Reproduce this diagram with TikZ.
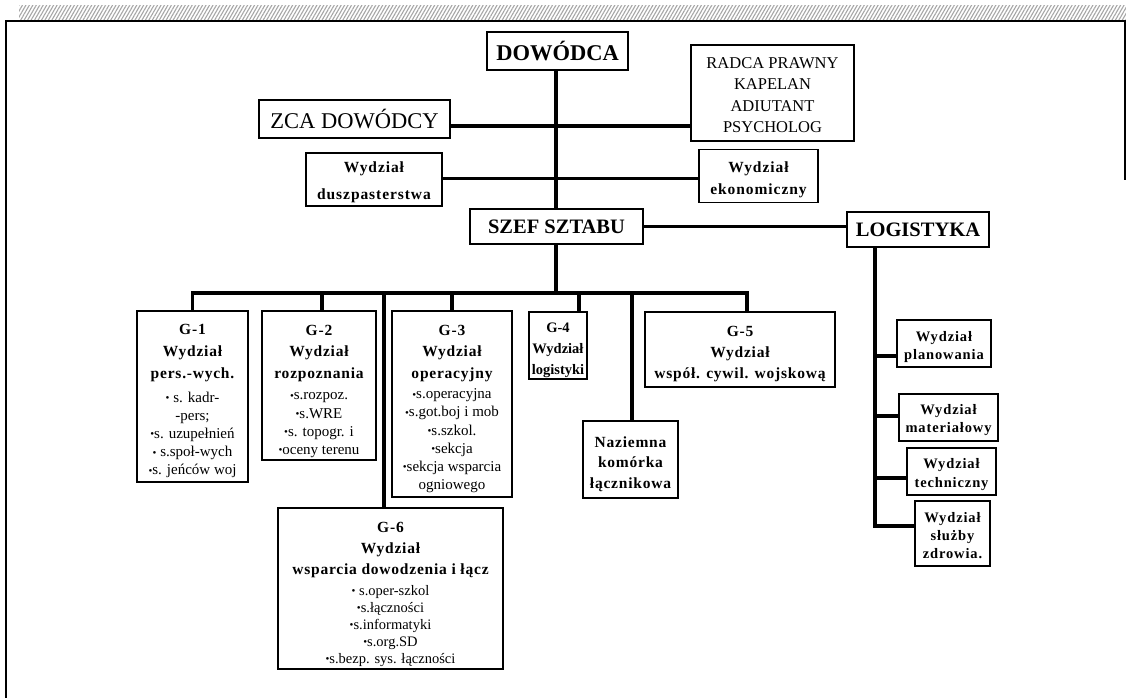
\documentclass[tikz,border=0pt]{standalone}
\usepackage{fontspec}
\setmainfont{Liberation Serif}
\usetikzlibrary{patterns.meta}

% small raised bullet used in the section lists
\newcommand\bul{{\fontsize{11}{11}\selectfont\raisebox{0.6pt}{•}}}
% bold heading line inside the staff-section boxes
\newcommand\hd[1]{{\bfseries\fontsize{15.5}{15.5}\selectfont\addfontfeature{LetterSpace=5}#1}}
% tighter heading for the narrow G-4 box
\newcommand\hdn[1]{{\bfseries\fontsize{14.5}{14.5}\selectfont#1}}
% bold labels of the smaller departments
\newcommand\dept[1]{{\bfseries\addfontfeature{LetterSpace=6}#1}}
% invisible strut making a first line taller, so the text block sits lower
\newcommand\dn[1]{\rule{0pt}{#1}}

\tikzset{
  box/.style={draw, line width=1.6pt, inner sep=0pt, align=center, fill=white},
  conn/.style={line width=3.3pt},
  gsec/.style={box, font=\fontsize{15}{18.2}\selectfont},
}

\begin{document}
\begin{tikzpicture}[x=1pt,y=-1pt]
  \fill[white] (0,0) rectangle (1126,698);
  \useasboundingbox (0,0) rectangle (1126,698);

  % grey hatched strip and the frame
  \fill[pattern={Lines[angle=60,distance=3pt,line width=1.1pt]}, pattern color=gray!70]
    (19,6) rectangle (1126,20);
  \draw[line width=2pt] (6,698) -- (6,21.5) -- (1124.5,21.5) -- (1124.5,180);

  % command level
  \node[box, minimum width=141pt, minimum height=38pt,
        font=\bfseries\fontsize{22.5}{22.5}\selectfont] (dow) at (557.5,51) {DOWÓDCA};
  \node[box, minimum width=191pt, minimum height=38pt,
        font=\fontsize{22.5}{22.5}\selectfont] (zca) at (354.5,119) {ZCA DOWÓDCY};
  \node[box, minimum width=163pt, minimum height=96pt,
        font=\fontsize{16.5}{21.3}\selectfont] (radca) at (772.5,93)
        {\dn{15pt}RADCA PRAWNY\\KAPELAN\\ADIUTANT\\PSYCHOLOG};
  \node[box, minimum width=136pt, minimum height=53pt,
        font=\fontsize{15.5}{27}\selectfont] (dusz) at (374,179.5)
        {\dn{15.5pt}\dept{Wydział}\\\dept{duszpasterstwa}};
  \node[box, minimum width=119pt, minimum height=53pt,
        font=\fontsize{15.5}{22}\selectfont] (ekon) at (758.5,176)
        {\dn{18.5pt}\dept{Wydział}\\\dept{ekonomiczny}};
  \node[box, minimum width=173pt, minimum height=35pt,
        font=\bfseries\fontsize{20.5}{20.5}\selectfont] (szef) at (556.5,226.5) {SZEF SZTABU};
  \node[box, minimum width=142pt, minimum height=35pt,
        font=\bfseries\fontsize{20.5}{20.5}\selectfont] (log) at (918,229.5) {LOGISTYKA};

  % staff sections
  \node[gsec, minimum width=111pt, minimum height=171pt] (g1) at (192.5,396.5)
    {\dn{20pt}\hd{G-1}\\[3.5pt]\hd{Wydział}\\[3.5pt]\hd{pers.-wych.}\\[5.5pt]
     \bul\ s. kadr-\\-pers;\\\bul s. uzupełnień\\\bul\ s.społ-wych\\\bul s. jeńców woj};
  \node[gsec, minimum width=114pt, minimum height=149pt] (g2) at (319,385.5)
    {\dn{22pt}\hd{G-2}\\[3.5pt]\hd{Wydział}\\[3.5pt]\hd{rozpoznania}\\[3pt]
     \bul s.rozpoz.\\\bul s.WRE\\\bul s. topogr. i\\\bul oceny terenu};
  \node[gsec, minimum width=120pt, minimum height=186pt] (g3) at (452,404)
    {\dn{20pt}\hd{G-3}\\[3.5pt]\hd{Wydział}\\[3.5pt]\hd{operacyjny}\\[2pt]
     \bul s.operacyjna\\\bul s.got.boj i mob\\\bul s.szkol.\\\bul sekcja\\
     \bul sekcja wsparcia\\ogniowego};
  \node[gsec, minimum width=58pt, minimum height=67pt] (g4) at (558,345.5)
    {\dn{19pt}\hdn{G-4}\\[3pt]\hdn{Wydział}\\[3pt]\hdn{logistyki}};
  \node[gsec, minimum width=190pt, minimum height=75pt] (g5) at (740,349.5)
    {\dn{19pt}\hd{G-5}\\[3pt]\hd{Wydział}\\[3pt]\hd{współ. cywil. wojskową}};
  \node[gsec, minimum width=95pt, minimum height=77pt] (naz) at (630.5,459.5)
    {\dn{20pt}\hd{Naziemna}\\[2pt]\hd{komórka}\\[2pt]\hd{łącznikowa}};
  \node[box, font=\fontsize{14.5}{17}\selectfont, minimum width=225pt,
    minimum height=161pt] (g6) at (390.5,588.5)
    {\dn{22pt}\hd{G-6}\\[4pt]\hd{Wydział}\\[4pt]\hd{wsparcia dowodzenia i łącz}\\[4pt]
     \bul\ s.oper-szkol\\\bul s.łączności\\\bul s.informatyki\\\bul s.org.SD\\
     \bul s.bezp. sys. łączności};

  % logistics departments
  \node[box, minimum width=94pt, minimum height=47pt,
    font=\fontsize{14.5}{18}\selectfont] (plan) at (944,343.5)
    {\dn{18pt}\dept{Wydział}\\\dept{planowania}};
  \node[box, minimum width=99pt, minimum height=47pt,
    font=\fontsize{14.5}{18}\selectfont] (mat) at (948.5,417.5)
    {\dn{16pt}\dept{Wydział}\\\dept{materiałowy}};
  \node[box, minimum width=89pt, minimum height=47pt,
    font=\fontsize{14.5}{19.5}\selectfont] (tech) at (951.5,471.5)
    {\dn{16pt}\dept{Wydział}\\\dept{techniczny}};
  \node[box, minimum width=75pt, minimum height=65pt,
    font=\fontsize{14.5}{18}\selectfont] (zdr) at (952.5,533.5)
    {\dn{14pt}\dept{Wydział}\\\dept{służby}\\\dept{zdrowia.}};

  % junction points on the connectors
  \coordinate (t1) at (556,126);
  \coordinate (t2) at (556,178.5);
  \coordinate (sz) at (556,293);
  \coordinate (s1) at (192.5,293);
  \coordinate (s2) at (322,293);
  \coordinate (s6) at (384,293);
  \coordinate (s3) at (452,293);
  \coordinate (s4) at (579,293);
  \coordinate (sn) at (632,293);
  \coordinate (s5) at (747,293);
  \coordinate (lp) at (875,356);
  \coordinate (lm) at (875,416);
  \coordinate (lt) at (875,478);
  \coordinate (lz) at (875,526);

  % command trunk and side links
  \draw[conn] (dow.south -| t1) -- (szef.north -| t1);
  \draw[conn] (zca.east |- t1) -- (radca.west |- t1);
  \draw[conn] (dusz.east |- t2) -- (ekon.west |- t2);
  \draw[conn] (szef.east) -- (log.west |- szef.east);

  % staff bar
  \draw[conn] (szef.south -| sz) -- (sz);
  \draw[conn] (g1.north -| s1) -- (s1) -- (s5) -- (g5.north -| s5);
  \draw[conn] (s2) -- (g2.north -| s2);
  \draw[conn] (s6) -- (g6.north -| s6);
  \draw[conn] (s3) -- (g3.north -| s3);
  \draw[conn] (s4) -- (g4.north -| s4);
  \draw[conn] (sn) -- (naz.north -| sn);

  % logistics column
  \draw[conn] (log.south -| lz) -- (lz) -- (zdr.west |- lz);
  \draw[conn] (lp) -- (plan.west |- lp);
  \draw[conn] (lm) -- (mat.west |- lm);
  \draw[conn] (lt) -- (tech.west |- lt);
\end{tikzpicture}
\end{document}
